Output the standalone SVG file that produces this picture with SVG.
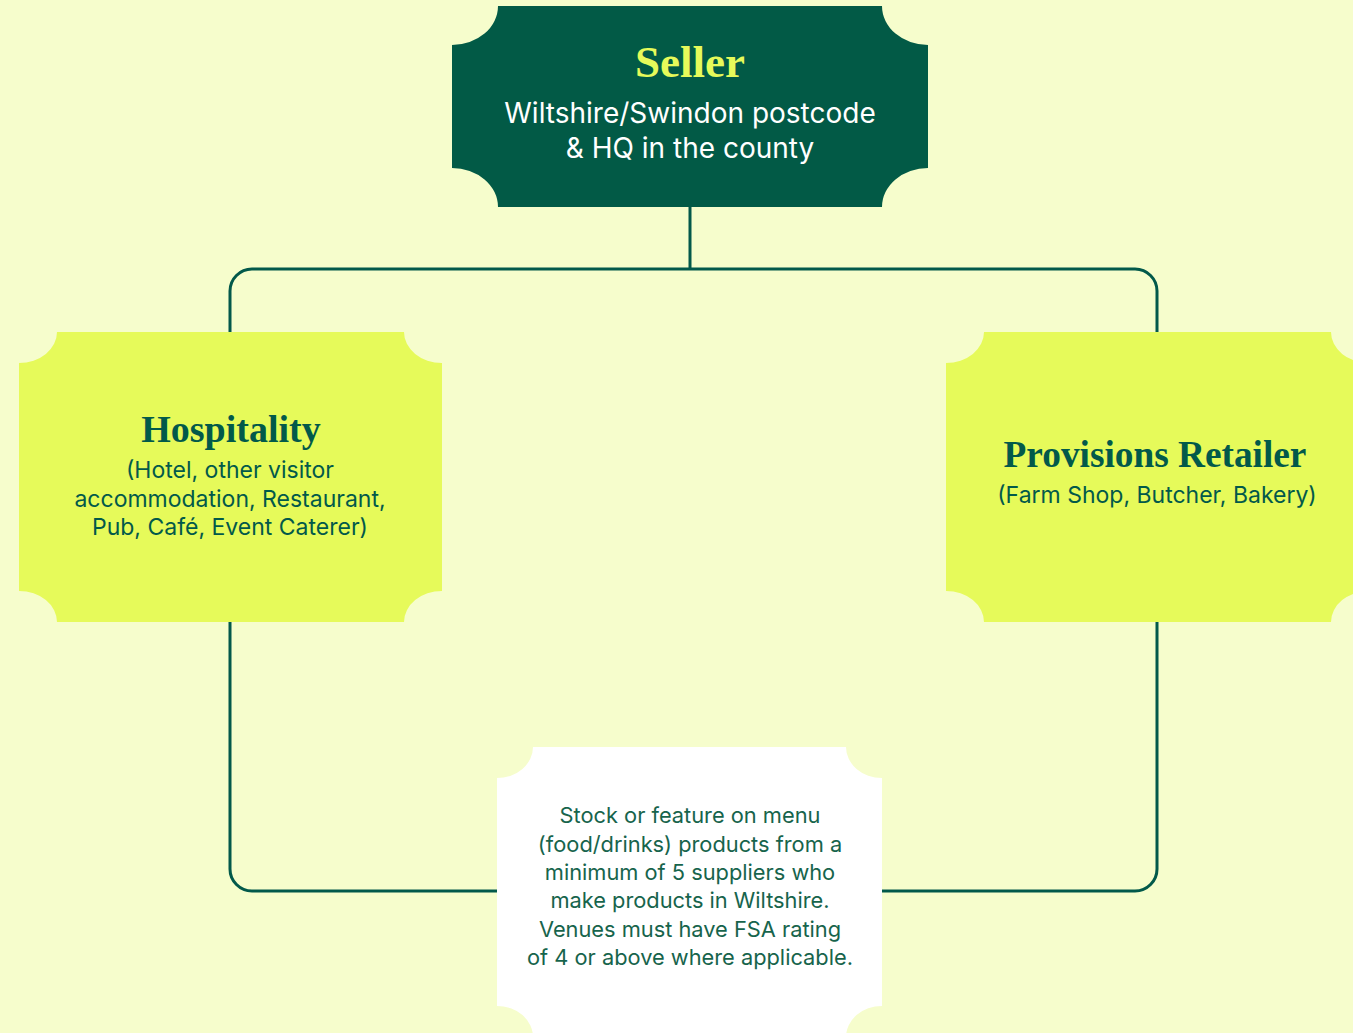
<svg xmlns="http://www.w3.org/2000/svg" width="1353" height="1033" viewBox="0 0 1353 1033">
  <style>
    .title { font-family: "Liberation Serif", serif; font-weight: bold; text-anchor: middle; }
    .sub { font-family: "Inter", "Liberation Sans", sans-serif; text-anchor: middle; }
    .conn { fill: none; stroke: #02594A; stroke-width: 3; stroke-linecap: butt; }
  </style>
  <rect width="1353" height="1033" fill="#F6FDCC"/>

  <g id="connectors">
    <path class="conn" d="M690,207 V269"/>
    <path class="conn" d="M230,332 V291 A22,22 0 0 1 252,269 H1135 A22,22 0 0 1 1157,291 V332"/>
    <path class="conn" d="M230,622 V869 A22,22 0 0 0 252,891 H497"/>
    <path class="conn" d="M882,891 H1135 A22,22 0 0 0 1157,869 V622"/>
  </g>

  <g id="seller">
    <path fill="#025A46" d="M498,6 H882 A46,39 0 0 0 928,45 V168 A46,39 0 0 0 882,207 H498 A46,39 0 0 0 452,168 V45 A46,39 0 0 0 498,6 Z"/>
    <text class="title" x="690" y="77" font-size="45" fill="#E6FA5A">Seller</text>
    <text class="sub" x="690" y="123" font-size="28" fill="#FFFFFF">Wiltshire/Swindon postcode</text>
    <text class="sub" x="690" y="158" font-size="28" fill="#FFFFFF">&amp; HQ in the county</text>
  </g>

  <g id="hospitality">
    <path fill="#E6FA5A" d="M57,332 H404 A38,31 0 0 0 442,363 V591 A38,31 0 0 0 404,622 H57 A38,31 0 0 0 19,591 V363 A38,31 0 0 0 57,332 Z"/>
    <text class="title" x="231" y="442" font-size="38" fill="#02594A">Hospitality</text>
    <text class="sub" x="230" y="478" font-size="23" fill="#02594A">(Hotel, other visitor</text>
    <text class="sub" x="230" y="507" font-size="23" fill="#02594A">accommodation, Restaurant,</text>
    <text class="sub" x="230" y="535" font-size="23" fill="#02594A">Pub, Café, Event Caterer)</text>
  </g>

  <g id="provisions">
    <path fill="#E6FA5A" d="M984,332 H1331 A38,31 0 0 0 1369,363 V591 A38,31 0 0 0 1331,622 H984 A38,31 0 0 0 946,591 V363 A38,31 0 0 0 984,332 Z"/>
    <text class="title" x="1155" y="467" font-size="37.3" fill="#02594A">Provisions Retailer</text>
    <text class="sub" x="1157" y="503" font-size="23" fill="#02594A">(Farm Shop, Butcher, Bakery)</text>
  </g>

  <g id="criteria">
    <path fill="#FFFFFF" d="M533,747 H846 A36,31 0 0 0 882,778 V1006 A36,31 0 0 0 846,1037 H533 A36,31 0 0 0 497,1006 V778 A36,31 0 0 0 533,747 Z"/>
    <text class="sub" x="690" y="823" font-size="21.8" fill="#17644C">Stock or feature on menu</text>
    <text class="sub" x="690" y="852" font-size="21.8" fill="#17644C">(food/drinks) products from a</text>
    <text class="sub" x="690" y="880" font-size="21.8" fill="#17644C">minimum of 5 suppliers who</text>
    <text class="sub" x="690" y="908" font-size="21.8" fill="#17644C">make products in Wiltshire.</text>
    <text class="sub" x="690" y="937" font-size="21.8" fill="#17644C">Venues must have FSA rating</text>
    <text class="sub" x="690" y="965" font-size="21.8" fill="#17644C">of 4 or above where applicable.</text>
  </g>
</svg>
